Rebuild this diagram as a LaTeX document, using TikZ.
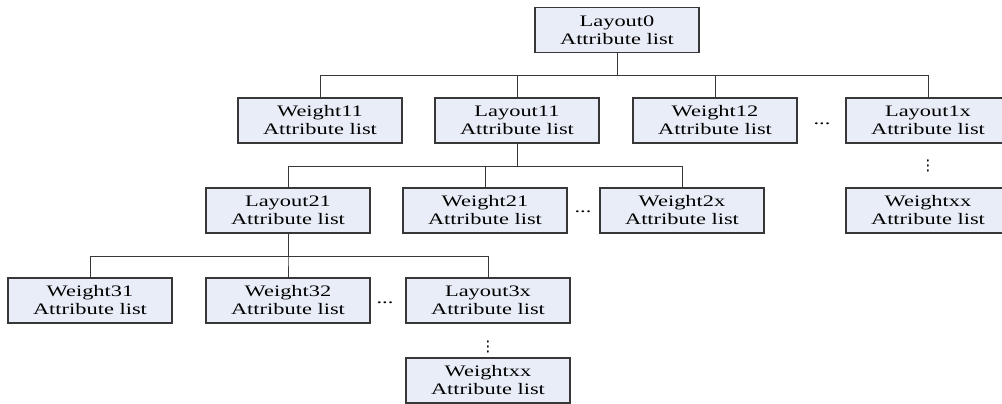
\documentclass[tikz,border=0pt]{standalone}
\usepackage{fontspec}
\setmainfont{Liberation Serif}[FakeStretch=1.4]
\usepackage{tikz}
\usetikzlibrary{positioning}
\definecolor{mfill}{RGB}{232, 237, 247}
\definecolor{mline}{RGB}{55, 55, 55}
\tikzset{attrbox/.style = {draw = mline, fill = mfill, line width = 0.8pt,
                           minimum width = 123pt, minimum height = 33.75pt,
                           inner sep = 0pt, align = center,
                           font = \fontsize{12}{13.5}\selectfont},
         link/.style = {draw = mline, line width = 0.75pt},
         hdots/.style = {inner sep = 0pt, font = \fontsize{12}{13.5}\selectfont},
         vdotsmark/.style = {hdots, rotate = 90, font = \fontsize{11}{12}\selectfont}}

\begin{document}
\begin{tikzpicture}[x = 0.75pt, y = -0.75pt]
      \useasboundingbox (0, 0) rectangle (1002, 403);
      \clip (0, 0) rectangle (1002, 403);
      % root
      \node [attrbox] (l0) at (617, 30) {Layout0\\Attribute list};
      % first level
      \node [attrbox] (w11) at (320, 120.5) {Weight11\\Attribute list};
      \node [attrbox] (l11) at (517, 120.5) {Layout11\\Attribute list};
      \node [attrbox] (w12) at (715, 120.5) {Weight12\\Attribute list};
      \node [attrbox] (l1x) at (928, 120.5) {Layout1x\\Attribute list};
      \node [hdots] (d1) at (822, 124) {...};
      \node [vdotsmark] (v1) at (928, 166) {...};
      \node [attrbox] (wxxa) at (928, 210.5) {Weightxx\\Attribute list};
      % second level
      \node [attrbox] (l21) at (288, 210.5) {Layout21\\Attribute list};
      \node [attrbox] (w21) at (485, 210.5) {Weight21\\Attribute list};
      \node [attrbox] (w2x) at (682, 210.5) {Weight2x\\Attribute list};
      \node [hdots] (d2) at (583, 212) {...};
      % third level
      \node [attrbox] (w31) at (90, 300.5) {Weight31\\Attribute list};
      \node [attrbox] (w32) at (288, 300.5) {Weight32\\Attribute list};
      \node [attrbox] (l3x) at (488, 300.5) {Layout3x\\Attribute list};
      \node [hdots] (d3) at (385, 303) {...};
      \node [vdotsmark] (v2) at (488, 347) {...};
      \node [attrbox] (wxxb) at (488, 380.5) {Weightxx\\Attribute list};

      \foreach \c in {w11, l11, w12, l1x}
        \draw [link] (l0.south) -- ++(0, 22.5) -| (\c.north);
      \foreach \c in {l21, w21, w2x}
        \draw [link] (l11.south) -- ++(0, 22.5) -| (\c.north);
      \foreach \c in {w31, w32, l3x}
        \draw [link] (l21.south) -- ++(0, 22.5) -| (\c.north);
    \end{tikzpicture}
\end{document}
